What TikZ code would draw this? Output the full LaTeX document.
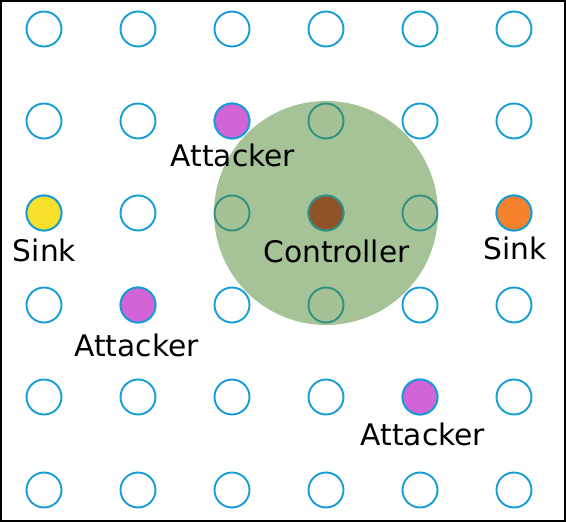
\documentclass[tikz,border=0pt]{standalone}
\usepackage{fontspec}
\setmainfont{DejaVu Sans}
\definecolor{ringblue}{HTML}{149CD6}
\definecolor{zonegreen}{HTML}{4B872F}
\definecolor{attackfill}{HTML}{D264D8}
\definecolor{sinkyellow}{HTML}{F8E02A}
\definecolor{sinkorange}{HTML}{F5812C}
\definecolor{ctrlred}{HTML}{D71D23}
\tikzset{
  sensor/.style={circle, draw=ringblue, line width=1.9pt, minimum size=35pt, inner sep=0pt},
  lbl/.style={anchor=base, inner sep=0pt, font=\fontsize{29.7}{32}\selectfont}
}
\begin{document}
\begin{tikzpicture}[x=1pt,y=-1pt]
\path[use as bounding box] (0,0) rectangle (566,522);
\draw[line width=2pt] (1,1) rectangle (565,521);
% grid of sensors
\foreach \i/\x in {0/44,1/138,2/232,3/326,4/420,5/514}{
  \foreach \j/\y in {0/29,1/121,2/213,3/305,4/397,5/490}{
    \node[sensor, fill=white] (s\i\j) at (\x,\y) {};
  }
}
% controller beneath the zone
\node[sensor, fill=ctrlred] (ctrl) at (326,213) {};
% controller zone (semi-transparent)
\fill[zonegreen, opacity=0.5] (326,213) circle (112);
% special nodes on top
\node[sensor, fill=attackfill] (a1) at (232,121) {};
\node[sensor, fill=attackfill] (a2) at (138,305) {};
\node[sensor, fill=attackfill] (a3) at (420,397) {};
\node[sensor, fill=sinkyellow] (k1) at (44,213) {};
\node[sensor, fill=sinkorange] (k2) at (514,213) {};
% labels
\node[lbl] (la1) at (233,166.5) {Attacker};
\node[lbl] (la2) at (136.5,356.5) {Attacker};
\node[lbl] (la3) at (423,445) {Attacker};
\node[lbl] (lc) at (336.5,262.5) {Controller};
\node[lbl] (lk1) at (44.5,261) {Sink};
\node[lbl] (lk2) at (515,259) {Sink};
\end{tikzpicture}
\end{document}
